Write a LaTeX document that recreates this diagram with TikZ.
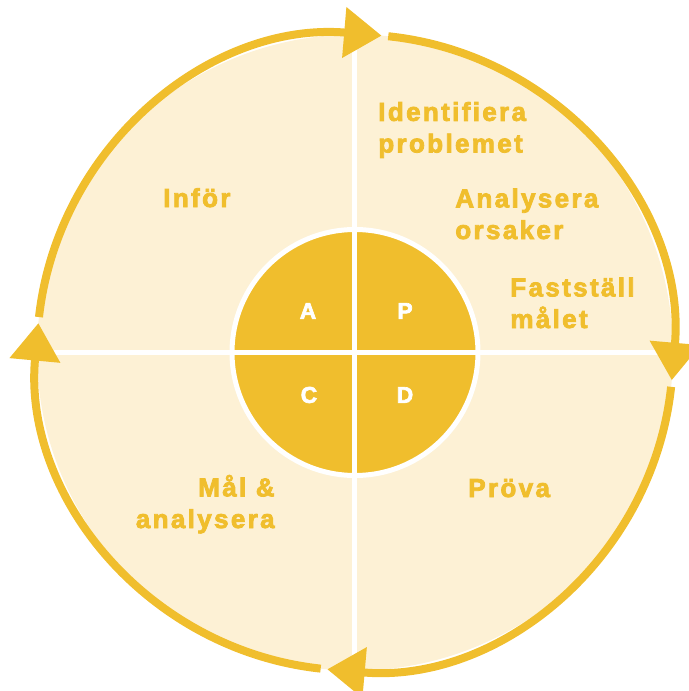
\documentclass[tikz,border=0pt]{standalone}
\usepackage{fontspec}
\usetikzlibrary{arrows.meta}
\newfontfamily\phasefont{Liberation Sans}[BoldFont={* Bold},BoldFeatures={FakeBold=3},LetterSpace=9]
\newfontfamily\quadfont{Liberation Sans}[BoldFont={* Bold},BoldFeatures={FakeBold=3}]
\definecolor{pdcayellow}{HTML}{F0BE2D}
\definecolor{pdcacream}{HTML}{FDF1D5}

\begin{document}
\begin{tikzpicture}[x=1cm,y=1cm,
  ring/.style={draw=pdcayellow,line width=.16cm,-{Triangle[length=.75cm,width=.98cm]}},
  divider/.style={draw=white,line width=.1cm},
  phase/.style={text=pdcayellow,inner sep=0pt,font=\phasefont\bfseries\fontsize{14.8}{18}\selectfont},
  quad/.style={text=white,inner sep=0pt,font=\quadfont\bfseries\fontsize{13}{15}\selectfont}]
\useasboundingbox (-7.1,-6.77) rectangle (6.68,7.05);
% discs and cross
\fill[pdcacream] (0,0) circle (6.36);
\filldraw[fill=pdcayellow,draw=white,line width=.1cm] (0,0) circle (2.46);
\draw[divider] (-6.3,0) -- (6.3,0);
\draw[divider] (0,-6.3) -- (0,6.3);
% outer cycle, clockwise
\draw[ring] (84:6.36) arc[start angle=84,end angle=-5,radius=6.36];
\draw[ring] (-6.2:6.36) arc[start angle=-6.2,end angle=-95,radius=6.36];
\draw[ring] (-96.2:6.36) arc[start angle=-96.2,end angle=-185.3,radius=6.36];
\draw[ring] (173.6:6.36) arc[start angle=173.6,end angle=85.2,radius=6.36];
% quadrant letters
\node[quad] (a) at (-.94,.83) {A};
\node[quad] (p) at (1,.83) {P};
\node[quad] (c) at (-.92,-.85) {C};
\node[quad] (d) at (1,-.85) {D};
% phase labels (base = last line)
\node[phase,anchor=base west,align=left] (ident) at (.46,4) {Identifiera\\problemet};
\node[phase,anchor=base west,align=left] (orsak) at (2,2.27) {Analysera\\orsaker};
\node[phase,anchor=base west,align=left] (malet) at (3.1,.49) {Fastställ\\målet};
\node[phase,anchor=base west] (infor) at (-3.84,2.91) {Inför};
\node[phase,anchor=base east,align=right] (malan) at (-1.6,-3.51) {Mål \&\\analysera};
\node[phase,anchor=base west] (prova) at (2.26,-2.89) {Pröva};
\end{tikzpicture}
\end{document}
